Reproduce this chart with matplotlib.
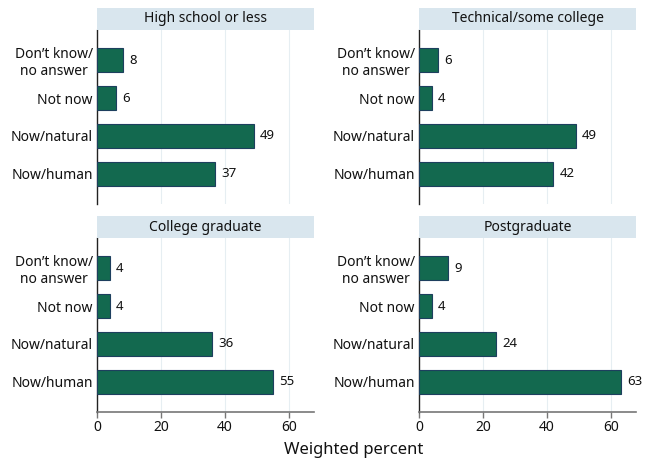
import matplotlib
matplotlib.use("Agg")
import matplotlib.pyplot as plt

plt.rcParams['font.family'] = ['Noto Sans', 'DejaVu Sans']

categories = ["Don\u2019t know/\nno answer", "Not now", "Now/natural", "Now/human"]
panels = ["High school or less", "Technical/some college", "College graduate", "Postgraduate"]
values = {
    "High school or less": [8, 6, 49, 37],
    "Technical/some college": [6, 4, 49, 42],
    "College graduate": [4, 4, 36, 55],
    "Postgraduate": [9, 4, 24, 63],
}
xticks = [0, 20, 40, 60]

W, H = 652, 461
fig = plt.figure(figsize=(W / 100, H / 100), dpi=100)

bar_color = "#13694f"
edge_color = "#1d3f5e"
strip_color = "#d9e6ee"
grid_color = "#e6eef2"

lefts = [97, 419]
tops = [30, 238]
aw, ah = 217, 174
strip_h = 22

for i, name in enumerate(panels):
    r, c = divmod(i, 2)
    x0 = lefts[c]
    y0 = tops[r]
    ax = fig.add_axes([x0 / W, (H - y0 - ah) / H, aw / W, ah / H])
    vals = values[name]
    pos = list(range(1, len(categories) + 1))
    ax.barh(pos, vals, height=0.62, color=bar_color, edgecolor=edge_color, linewidth=0.8, zorder=3)
    for p, v in zip(pos, vals):
        ax.text(v + 2, p, f"{v}", va="center", ha="left", fontsize=9.5, color="#111111")
    ax.set_xlim(0, 67.8)
    ax.set_ylim(4.79, 0.21)
    ax.set_yticks(pos)
    ax.set_yticklabels(categories, fontsize=10, multialignment="center")
    ax.tick_params(axis="y", length=0, pad=3, colors="#111111")
    ax.set_xticks(xticks)
    for xt in xticks[1:]:
        ax.axvline(xt, color=grid_color, linewidth=0.8, zorder=0)
    for s in ["top", "right"]:
        ax.spines[s].set_visible(False)
    ax.spines["left"].set_color("#222222")
    ax.spines["left"].set_linewidth(1.0)
    if r == 0:
        ax.spines["bottom"].set_visible(False)
        ax.tick_params(axis="x", length=0, labelbottom=False)
    else:
        ax.spines["bottom"].set_color("#777777")
        ax.spines["bottom"].set_linewidth(1.2)
        ax.tick_params(axis="x", length=4, width=1, color="#777777", labelsize=10, pad=2, labelcolor="#111111")
    # strip
    sax = fig.add_axes([x0 / W, (H - y0) / H, aw / W, strip_h / H])
    sax.set_facecolor(strip_color)
    sax.set_xticks([])
    sax.set_yticks([])
    for s in sax.spines.values():
        s.set_visible(False)
    sax.text(0.5, 0.5, name, ha="center", va="center", fontsize=10, color="#111111", transform=sax.transAxes)

fig.text(354 / W, (H - 450) / H, "Weighted percent", ha="center", va="center", fontsize=12, color="#111111")

fig.savefig("out.png", dpi=100, facecolor="white")
